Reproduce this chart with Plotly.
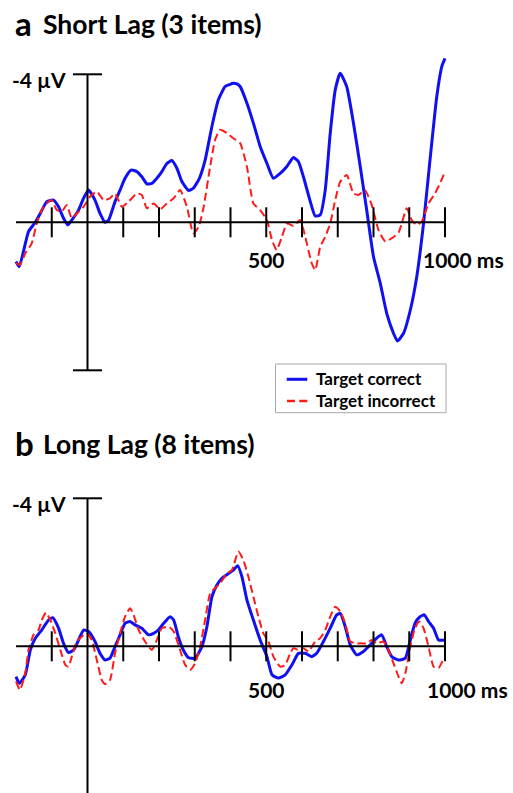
import plotly.graph_objects as go

W, H = 513, 793

# ---------------- data (time in ms, amplitude in µV; negative = up) ----------------
a_correct_t = [-200, -191, -165, -146, -132, -114, -95, -81, -67, -55, -44, -25, -11, 3, 21, 35, 49, 59, 77, 91,
               105, 122, 138, 152, 166, 180, 194, 208, 222, 236, 250, 264, 283, 296, 313, 329, 348, 366, 385, 397,
               408, 418, 427, 446, 464, 483, 502, 520, 539, 557, 576, 590, 604, 622, 637, 651, 665, 679, 693, 707,
               725, 744, 763, 781, 800, 819, 837, 856, 867, 884, 903, 921, 940, 958, 977, 991, 1000]
a_correct_uv = [1.06, 1.2, 0.25, 0.0, -0.24, -0.56, -0.6, -0.42, -0.11, 0.07, -0.06, -0.33, -0.65, -0.87, -0.6, -0.24, 0.0, -0.06, -0.56, -0.87,
                -1.19, -1.41, -1.37, -1.23, -1.04, -1.05, -1.19, -1.37, -1.59, -1.67, -1.46, -1.1, -0.86, -0.92, -1.19, -1.68, -2.59, -3.31, -3.67, -3.72,
                -3.76, -3.74, -3.67, -3.22, -2.68, -2.05, -1.59, -1.19, -1.32, -1.5, -1.75, -1.64, -1.23, -0.6, -0.17, -0.2, -0.87, -2.41, -3.58, -4.03,
                -3.67, -2.68, -1.5, -0.33, 0.93, 1.65, 2.46, 3.0, 3.21, 3.0, 2.37, 1.47, 0.03, -1.68, -3.4, -4.21, -4.43]

a_incorrect_t = [-200, -189, -174, -156, -142, -128, -114, -100, -86, -72, -58, -44, -30, -11, 7, 26, 45, 63, 77, 96,
                 115, 138, 152, 166, 185, 203, 222, 241, 259, 278, 296, 311, 325, 343, 357, 371, 390, 408, 427, 446,
                 464, 483, 502, 516, 529, 544, 558, 576, 595, 609, 627, 637, 651, 665, 679, 693, 707, 725, 744, 758,
                 776, 795, 814, 833, 851, 870, 879, 893, 907, 921, 935, 954, 972, 986, 1000]
a_incorrect_uv = [1.1, 1.15, 0.84, 0.57, 0.03, -0.33, -0.51, -0.6, -0.33, -0.29, -0.47, -0.11, -0.24, -0.42, -0.69, -0.83, -0.6, -0.65, -0.78, -0.42,
                  -0.56, -0.78, -0.74, -0.38, -0.51, -0.35, -0.51, -0.65, -0.87, -0.42, 0.3, 0.12, -0.42, -1.5, -2.23, -2.5, -2.41, -2.27, -2.14, -1.5,
                  -0.51, -0.33, -0.06, 0.48, 0.75, 0.39, 0.03, 0.1, -0.06, 0.39, 1.1, 1.29, 0.66, 0.39, 0.03, -0.6, -1.1, -1.28, -0.78, -0.74,
                  -0.87, -0.47, 0.21, 0.52, 0.43, 0.28, 0.03, -0.38, -0.06, 0.07, -0.02, -0.51, -0.78, -1.05, -1.37]

b_correct_t = [-200, -191, -174, -160, -146, -128, -109, -97, -81, -67, -53, -39, -25, -11, 3, 21, 35, 49, 63, 77,
               91, 105, 119, 133, 152, 171, 185, 198, 213, 231, 241, 254, 268, 283, 301, 320, 334, 348, 362, 376,
               395, 408, 420, 432, 446, 464, 483, 502, 516, 534, 553, 572, 590, 609, 627, 641, 660, 679, 697, 707,
               721, 735, 753, 772, 791, 809, 823, 837, 851, 870, 889, 903, 916, 930, 942, 954, 968, 982, 1000]
b_correct_uv = [0.82, 1.0, 0.77, 0.1, -0.22, -0.44, -0.71, -0.77, -0.49, -0.08, 0.17, 0.1, -0.17, -0.44, -0.4, -0.13, 0.19, 0.37, 0.32, 0.01,
                -0.31, -0.62, -0.67, -0.58, -0.49, -0.31, -0.35, -0.44, -0.62, -0.8, -0.71, -0.26, 0.1, 0.31, 0.32, 0.01, -0.53, -1.34, -1.66, -1.84,
                -1.97, -2.06, -2.18, -1.88, -1.25, -0.71, -0.17, 0.28, 0.77, 0.86, 0.77, 0.5, 0.19, 0.19, 0.28, 0.19, -0.13, -0.49, -0.85, -0.89,
                -0.53, -0.04, 0.23, 0.14, -0.04, -0.22, -0.31, 0.01, 0.28, 0.37, 0.32, -0.17, -0.62, -0.8, -0.85, -0.67, -0.49, -0.17, -0.17]

b_incorrect_t = [-200, -189, -174, -165, -151, -137, -128, -116, -104, -90, -76, -62, -53, -44, -30, -16, -2, 12, 26, 40,
                 49, 63, 77, 91, 105, 119, 129, 143, 161, 180, 194, 208, 227, 241, 259, 273, 287, 301, 315, 329,
                 343, 357, 371, 390, 404, 422, 436, 450, 464, 478, 492, 506, 520, 539, 553, 567, 576, 590, 604, 618,
                 637, 651, 665, 679, 693, 707, 721, 735, 753, 767, 781, 795, 809, 828, 842, 856, 870, 879, 889, 903,
                 916, 928, 940, 954, 968, 982, 995, 1000]
b_incorrect_uv = [0.95, 1.18, 0.73, 0.1, -0.31, -0.44, -0.71, -0.91, -0.71, -0.35, 0.1, 0.5, 0.55, 0.28, -0.13, -0.26, -0.35, -0.17, 0.37, 0.91,
                  1.02, 0.91, 0.19, -0.35, -0.8, -1.03, -0.85, -0.44, -0.13, 0.1, -0.17, -0.49, -0.53, -0.4, 0.1, 0.5, 0.64, 0.46, 0.01, -0.71,
                  -1.43, -1.57, -1.7, -1.97, -2.06, -2.56, -2.33, -1.88, -1.34, -0.8, -0.35, -0.13, 0.28, 0.55, 0.5, 0.19, 0.05, 0.1, 0.05, 0.14,
                  -0.13, -0.22, -0.44, -0.8, -1.07, -0.94, -0.62, -0.13, -0.08, -0.08, -0.08, -0.17, -0.08, -0.13, 0.1, 0.46, 0.82, 1.0, 0.73, 0.01,
                  -0.49, -0.67, -0.49, 0.01, 0.55, 0.59, 0.37, 0.35]

x_ticks = [-100, 100, 200, 300, 400, 500, 600, 700, 800, 900, 1000]
panel_titles = [("a", "Short Lag (3 items)"), ("b", "Long Lag (8 items)")]
series_names = ["Target correct", "Target incorrect"]

# ---------------- geometry ----------------
PX_PER_MS = 429 / 1200.0
X0_PX = 87.5
PX_PER_UV = 37.0
ZERO_A, ZERO_B = 222.3, 646.3

def xr():
    return [(0 - X0_PX) / PX_PER_MS, (W - X0_PX) / PX_PER_MS]

def yr(zero):
    return [(H - zero) / PX_PER_UV, (0 - zero) / PX_PER_UV]

def px(xp):
    return xp / W

def py(yp):
    return 1 - yp / H

BLUE = "#1010f0"
RED = "#ff1a1a"
FONT = "Lato"
DASH = "8px,4px"

fig = go.Figure()
for t, v, name, col, dash, wdt, xa, ya in [
        (a_correct_t, a_correct_uv, series_names[0], BLUE, "solid", 3, "x", "y"),
        (a_incorrect_t, a_incorrect_uv, series_names[1], RED, DASH, 2, "x", "y"),
        (b_correct_t, b_correct_uv, series_names[0], BLUE, "solid", 3, "x2", "y2"),
        (b_incorrect_t, b_incorrect_uv, series_names[1], RED, DASH, 2, "x2", "y2")]:
    fig.add_trace(go.Scatter(x=t, y=v, mode="lines", name=name, xaxis=xa, yaxis=ya, showlegend=False,
                             line=dict(color=col, width=wdt, dash=dash, shape="spline", smoothing=0.5)))

shapes = []
annotations = []
tick_half = 15 / PX_PER_UV
cap_half = 14.5 / PX_PER_MS
for xref, yref, label_dy, ms_x in [("x", "y", 36.7, (420.7 - X0_PX) / PX_PER_MS),
                                    ("x2", "y2", 43.0, (425 - X0_PX) / PX_PER_MS)]:
    lw = dict(color="black", width=2)
    shapes.append(dict(type="line", xref=xref, yref=yref, x0=-200, x1=1000, y0=0, y1=0, line=lw))
    for tx in x_ticks:
        shapes.append(dict(type="line", xref=xref, yref=yref, x0=tx, x1=tx, y0=-tick_half, y1=tick_half, line=lw))
    shapes.append(dict(type="line", xref=xref, yref=yref, x0=0, x1=0, y0=-4, y1=4, line=lw))
    for yy in (-4, 4):
        shapes.append(dict(type="line", xref=xref, yref=yref, x0=-cap_half, x1=cap_half, y0=yy, y1=yy, line=lw))
    tf = dict(family=FONT, size=21, color="black", weight=700)
    annotations.append(dict(xref=xref, yref=yref, x=500, y=label_dy / PX_PER_UV, text="500",
                            showarrow=False, xanchor="center", yanchor="middle", font=tf))
    annotations.append(dict(xref=xref, yref=yref, x=ms_x, y=label_dy / PX_PER_UV, text="1000 ms",
                            showarrow=False, xanchor="left", yanchor="middle", font=tf))
    annotations.append(dict(xref=xref, yref=yref, x=(67.5 - X0_PX) / PX_PER_MS, y=-4 + 5 / PX_PER_UV, text="-4 µV",
                            showarrow=False, xanchor="right", yanchor="middle", font=tf))

for (letter, title), cy in zip(panel_titles, [23, 443]):
    annotations.append(dict(xref="paper", yref="paper", x=px(13), y=py(cy), text=letter, showarrow=False,
                            xanchor="left", yanchor="middle",
                            font=dict(family=FONT, size=33, color="black", weight=700)))
    annotations.append(dict(xref="paper", yref="paper", x=px(41), y=py(cy + 1), text=title, showarrow=False,
                            xanchor="left", yanchor="middle",
                            font=dict(family=FONT, size=26.5, color="black", weight=700)))

# legend key (drawn in paper space)
shapes.append(dict(type="rect", xref="paper", yref="paper", x0=px(275.5), x1=px(446), y0=py(412.7), y1=py(364),
                   line=dict(color="#a8a8a8", width=1), fillcolor="white"))
shapes.append(dict(type="line", xref="paper", yref="paper", x0=px(286.7), x1=px(307.3), y0=py(379.3), y1=py(379.3),
                   line=dict(color=BLUE, width=3)))
shapes.append(dict(type="line", xref="paper", yref="paper", x0=px(287), x1=px(295), y0=py(401), y1=py(401),
                   line=dict(color=RED, width=2.5)))
shapes.append(dict(type="line", xref="paper", yref="paper", x0=px(299.3), x1=px(307.3), y0=py(401), y1=py(401),
                   line=dict(color=RED, width=2.5)))
for name, yy in zip(series_names, [378.5, 400]):
    annotations.append(dict(xref="paper", yref="paper", x=px(314), y=py(yy), text=name, showarrow=False,
                            xanchor="left", yanchor="middle",
                            font=dict(family=FONT, size=17, color="black", weight=700)))

fig.update_layout(
    width=W, height=H, margin=dict(l=0, r=0, t=0, b=0),
    paper_bgcolor="white", plot_bgcolor="white",
    xaxis=dict(domain=[0, 1], range=xr(), visible=False, fixedrange=True),
    yaxis=dict(domain=[0, 1], range=yr(ZERO_A), visible=False, fixedrange=True),
    xaxis2=dict(domain=[0, 1], range=xr(), visible=False, overlaying="x"),
    yaxis2=dict(domain=[0, 1], range=yr(ZERO_B), visible=False, overlaying="y"),
    shapes=shapes, annotations=annotations,
    showlegend=False,
)

fig.write_html("out.html")
